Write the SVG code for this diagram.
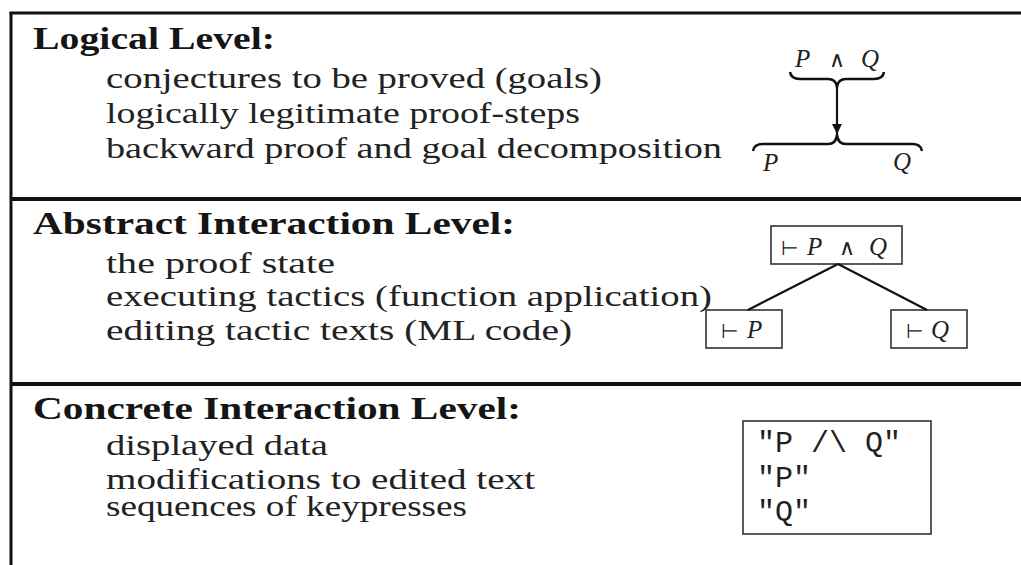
<svg xmlns="http://www.w3.org/2000/svg" width="1021" height="565" viewBox="0 0 1021 565">
<style>
.frame{stroke:#111;fill:none}
.hdr{font-family:"Liberation Serif","Times New Roman",Tinos,serif;font-weight:bold;font-size:31px;fill:#151515}
.body{font-family:"Liberation Serif","Times New Roman",Tinos,serif;font-size:30px;fill:#222}
.math{font-family:"Liberation Serif","Times New Roman",Tinos,serif;font-size:25px;fill:#222}
.it{font-style:italic}
.sym{font-family:"DejaVu Sans",sans-serif;font-size:20px}
.wedge{font-family:"DejaVu Sans",sans-serif;font-size:22px}
.mono{font-family:"Liberation Mono","Courier New",monospace;font-size:30px;fill:#222}
.box{fill:#fff;stroke:#333;stroke-width:1.6}
.brace{fill:none;stroke:#111;stroke-width:2.5;stroke-linejoin:round}
.edge{fill:none;stroke:#111;stroke-width:2.2}
</style>
<defs>
<marker id="arrow" markerUnits="userSpaceOnUse" markerWidth="12" markerHeight="16" refX="10" refY="5" orient="auto">
<path d="M0,0 L10,5 L0,10 Z" fill="#111"/>
</marker>
</defs>
<rect width="1021" height="565" fill="#fff"/>
<g id="frame">
<line class="frame" x1="9.5" y1="13" x2="1021" y2="13" stroke-width="3"/>
<line class="frame" x1="11" y1="12" x2="11" y2="565" stroke-width="3"/>
<line class="frame" x1="11" y1="199" x2="1021" y2="199" stroke-width="4"/>
<line class="frame" x1="11" y1="384" x2="1021" y2="384" stroke-width="4"/>
</g>
<g id="logical-level">
<text class="hdr" x="33" y="49" textLength="242" lengthAdjust="spacingAndGlyphs">Logical Level:</text>
<text class="body" x="106" y="88" textLength="496" lengthAdjust="spacingAndGlyphs">conjectures to be proved (goals)</text>
<text class="body" x="106" y="123" textLength="474" lengthAdjust="spacingAndGlyphs">logically legitimate proof-steps</text>
<text class="body" x="106" y="158" textLength="616" lengthAdjust="spacingAndGlyphs">backward proof and goal decomposition</text>
</g>
<g id="abstract-level">
<text class="hdr" x="33" y="234" textLength="482" lengthAdjust="spacingAndGlyphs">Abstract Interaction Level:</text>
<text class="body" x="106" y="273" textLength="229" lengthAdjust="spacingAndGlyphs">the proof state</text>
<text class="body" x="106" y="306" textLength="606" lengthAdjust="spacingAndGlyphs">executing tactics (function application)</text>
<text class="body" x="106" y="340" textLength="466" lengthAdjust="spacingAndGlyphs">editing tactic texts (ML code)</text>
</g>
<g id="concrete-level">
<text class="hdr" x="33" y="419" textLength="488" lengthAdjust="spacingAndGlyphs">Concrete Interaction Level:</text>
<text class="body" x="106" y="455" textLength="222" lengthAdjust="spacingAndGlyphs">displayed data</text>
<text class="body" x="106" y="489" textLength="429" lengthAdjust="spacingAndGlyphs" font-size="29">modifications to edited text</text>
<text class="body" x="106" y="516" textLength="361" lengthAdjust="spacingAndGlyphs" font-size="29">sequences of keypresses</text>
</g>
<g id="goal-PandQ">
<text class="math" y="67"><tspan class="it" x="795">P</tspan><tspan class="wedge" x="829">∧</tspan><tspan class="it" x="861">Q</tspan></text>
<path class="brace" d="M790,72 Q791,79 800,79 L828,79 Q836,79 837,87 Q838,79 846,79 L874,79 Q883,79 884,72"/>
</g>
<g id="goals-P-Q">
<path class="brace" d="M753,151 Q754,144 763,144 L828,144 Q836,144 837,135 Q838,144 846,144 L912,144 Q921,144 922,151"/>
<text class="math it" x="763" y="171">P</text>
<text class="math it" x="893" y="170">Q</text>
</g>
<g id="node-root">
<rect class="box" x="771" y="226" width="131" height="38"/>
<text class="math" y="255"><tspan class="sym" x="781">⊢</tspan><tspan class="it" x="807">P</tspan><tspan class="wedge" x="839">∧</tspan><tspan class="it" x="869">Q</tspan></text>
</g>
<g id="node-P">
<rect class="box" x="706" y="310" width="76" height="38"/>
<text class="math" y="338"><tspan class="sym" x="721">⊢</tspan><tspan class="it" x="747">P</tspan></text>
</g>
<g id="node-Q">
<rect class="box" x="891" y="310" width="76" height="38"/>
<text class="math" y="338"><tspan class="sym" x="906">⊢</tspan><tspan class="it" x="931">Q</tspan></text>
</g>
<g id="node-display">
<rect class="box" x="743" y="421" width="188" height="113"/>
<text class="mono" x="757" y="452">"P /\ Q"</text>
<text class="mono" x="757" y="487">"P"</text>
<text class="mono" x="757" y="521">"Q"</text>
</g>
<g id="connectors">
<line class="edge" x1="837" y1="87" x2="837" y2="134" marker-end="url(#arrow)"/>
<line class="edge" x1="838" y1="264" x2="748" y2="310"/>
<line class="edge" x1="838" y1="264" x2="927" y2="310"/>
</g>
</svg>
